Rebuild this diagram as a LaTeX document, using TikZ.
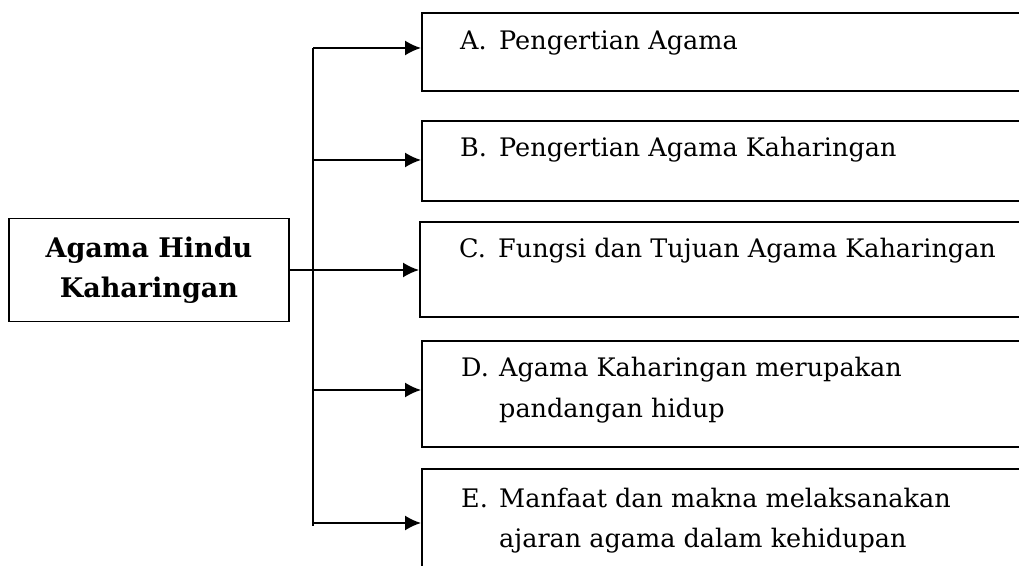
\documentclass[tikz,border=0pt]{standalone}
\usepackage{fontspec}
\setmainfont{DejaVu Serif}
\usetikzlibrary{arrows.meta, positioning}

\newcommand{\butir}[2]{\makebox[39pt][l]{#1}#2}

\tikzset{
    kotak/.style={draw, line width=1.8pt, minimum width=620pt, anchor=north west, inner sep=0pt},
    isi/.style={anchor=base west, inner sep=0pt, font=\fontsize{25.5}{40}\selectfont},
    panah/.style={line width=1.8pt, -{Latex[length=16pt, width=15pt]}},
}

\begin{document}
\begin{tikzpicture}[x=1pt, y=1pt]
    \useasboundingbox (0,0) rectangle (1019,565);

    % 1. Kotak utama
    \node[draw, line width=1.8pt, minimum width=280pt, minimum height=103pt, align=center,
        font=\fontsize{27}{40}\selectfont\bfseries] (utama) at (149,295) {Agama Hindu\\Kaharingan};

    % 2. Kotak sub bab
    \node[kotak, minimum height=78pt] (kA) at (421,553) {};
    \node[kotak, minimum height=80pt] (kB) at (421,445) {};
    \node[kotak, minimum height=95pt] (kC) at (419,344) {};
    \node[kotak, minimum height=106pt] (kD) at (421,225) {};
    \node[kotak, minimum height=120pt] (kE) at (421,97) {};

    % 3. Isi kotak
    \node[isi] (tA) at (460,515) {\butir{A.}{Pengertian Agama}};
    \node[isi] (tB) at (460,408) {\butir{B.}{Pengertian Agama Kaharingan}};
    \node[isi] (tC) at (459,307) {\butir{C.}{Fungsi dan Tujuan Agama Kaharingan}};
    \node[isi] (tD) at (461,188) {\begin{tabular}[t]{@{}p{38pt}@{}l@{}}
        D. & Agama Kaharingan merupakan\\ & pandangan hidup\end{tabular}};
    \node[isi] (tE) at (461,58) {\begin{tabular}[t]{@{}p{38pt}@{}l@{}}
        E. & Manfaat dan makna melaksanakan\\ & ajaran agama dalam kehidupan\end{tabular}};

    % 4. Garis cabang dan panah
    \coordinate (jA) at (313,517);
    \coordinate (jB) at (313,405);
    \coordinate (jD) at (313,175);
    \coordinate (jE) at (313,42);
    \coordinate (ujung) at (313,39);
    \draw[line width=1.8pt] (jA) -- (ujung);
    \foreach \s in {A,B,D,E}
        \draw[panah] (j\s) -- (j\s -| k\s.west);
    \draw[panah] (utama.east) -- (utama.east -| kC.west);
\end{tikzpicture}
\end{document}
